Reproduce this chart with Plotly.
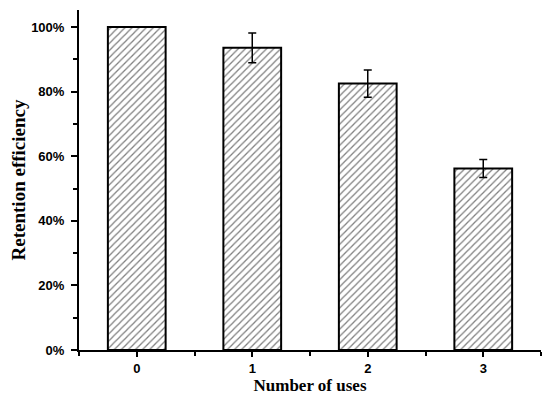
import plotly.graph_objects as go

uses = [0, 1, 2, 3]
retention = [100, 93.6, 82.5, 56.2]
err = [0, 4.6, 4.2, 2.8]
y_ticks = [0, 20, 40, 60, 80, 100]
y_labels = ["0%", "20%", "40%", "60%", "80%", "100%"]

fig = go.Figure()

fig.add_trace(
    go.Bar(
        x=uses,
        y=retention,
        width=0.5,
        marker=dict(
            color="white",
            line=dict(color="black", width=2),
            pattern=dict(shape="/", fgcolor="black", bgcolor="white", size=5, solidity=0.25),
        ),
        error_y=dict(
            type="data",
            array=err,
            visible=True,
            color="black",
            thickness=1.5,
            width=4,
        ),
    )
)

tick_font = dict(family="Liberation Sans", size=13, color="black", weight="bold")

fig.update_xaxes(
    range=[-0.5, 3.5],
    tickvals=uses,
    ticks="outside",
    ticklen=5,
    tickwidth=2,
    tickcolor="black",
    showline=True,
    linecolor="black",
    linewidth=2,
    showgrid=False,
    zeroline=False,
    tickfont=tick_font,
    automargin=False,
    minor=dict(tickvals=[-0.5, 0.5, 1.5, 2.5, 3.5], ticks="outside", ticklen=4, tickwidth=2, tickcolor="black"),
    title=dict(
        text="Number of uses",
        font=dict(family="Liberation Serif", size=17, color="black", weight="bold"),
        standoff=5,
    ),
)
fig.update_yaxes(
    range=[0, 105.3],
    tickvals=y_ticks,
    ticktext=y_labels,
    ticks="outside",
    ticklen=6,
    tickwidth=2,
    tickcolor="black",
    ticklabelstandoff=4,
    showline=True,
    linecolor="black",
    linewidth=2,
    showgrid=False,
    zeroline=False,
    tickfont=tick_font,
    automargin=False,
    minor=dict(tickvals=[10, 30, 50, 70, 90], ticks="outside", ticklen=4, tickwidth=2, tickcolor="black"),
    title=dict(
        text="Retention efficiency",
        font=dict(family="Liberation Serif", size=19, color="black", weight="bold"),
        standoff=4,
    ),
)

# page body adds an 8px offset, so the figure is drawn slightly smaller
fig.update_layout(
    width=542,
    height=392,
    margin=dict(l=71, r=9, t=2, b=50),
    plot_bgcolor="white",
    paper_bgcolor="white",
    showlegend=False,
)

fig.write_html("out.html")
